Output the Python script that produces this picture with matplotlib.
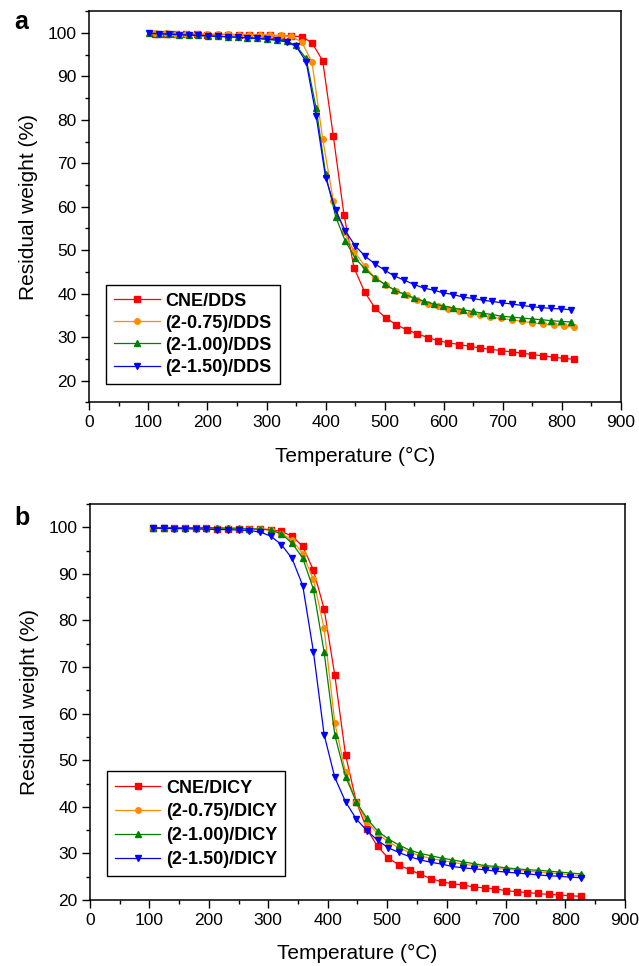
import matplotlib
matplotlib.use('Agg')
import matplotlib.pyplot as plt
from matplotlib.ticker import MultipleLocator

plt.rcParams['font.family'] = ['Liberation Sans', 'DejaVu Sans']

# panel a (DDS cured)
temp_a1 = [111, 129, 146, 164, 182, 200, 218, 235, 253, 271,
           289, 306, 324, 342, 360, 377, 395, 413, 431, 448,
           466, 484, 502, 519, 537, 555, 573, 590, 608, 626,
           644, 662, 679, 697, 715, 733, 750, 768, 786, 804,
           821]
cne_dds = [99.8, 99.8, 99.7, 99.7, 99.7, 99.6, 99.6, 99.6, 99.5, 99.5,
           99.4, 99.4, 99.3, 99.3, 99.1, 97.7, 93.6, 76.3, 58.2, 46.0,
           40.4, 36.6, 34.4, 32.9, 31.7, 30.8, 29.9, 29.2, 28.7, 28.3,
           27.9, 27.5, 27.2, 26.9, 26.6, 26.3, 26.0, 25.7, 25.4, 25.1,
           24.9]
dds_075 = [99.9, 99.9, 99.8, 99.8, 99.8, 99.7, 99.7, 99.7, 99.6, 99.6,
           99.6, 99.5, 99.4, 99.2, 97.8, 93.2, 75.6, 61.4, 54.2, 49.8,
           46.4, 43.6, 41.9, 40.6, 39.6, 38.5, 37.6, 37.1, 36.5, 35.9,
           35.4, 35.0, 34.6, 34.3, 34.0, 33.6, 33.3, 33.0, 32.8, 32.5,
           32.3]
temp_a2 = [101, 118, 135, 151, 168, 184, 201, 218, 234, 251,
           267, 284, 301, 317, 334, 350, 367, 384, 400, 417,
           433, 450, 467, 483, 500, 516, 533, 550, 566, 583,
           599, 616, 633, 649, 666, 682, 699, 716, 732, 749,
           765, 782, 799, 815]
dds_100 = [99.9, 99.8, 99.7, 99.6, 99.5, 99.4, 99.3, 99.2, 99.1, 99.0,
           98.9, 98.8, 98.6, 98.4, 98.1, 97.1, 94.1, 82.7, 67.5, 57.7,
           52.2, 48.2, 45.6, 43.7, 42.2, 40.9, 39.9, 39.0, 38.3, 37.6,
           37.2, 36.7, 36.3, 35.9, 35.5, 35.2, 34.8, 34.6, 34.4, 34.2,
           34.0, 33.8, 33.6, 33.5]
dds_150 = [99.9, 99.8, 99.7, 99.6, 99.5, 99.4, 99.3, 99.2, 99.1, 99.0,
           98.8, 98.7, 98.5, 98.3, 97.9, 96.9, 93.4, 80.9, 66.7, 59.2,
           54.5, 51.0, 48.6, 46.9, 45.4, 44.1, 43.1, 42.1, 41.3, 40.8,
           40.2, 39.8, 39.2, 38.9, 38.5, 38.2, 37.9, 37.6, 37.3, 37.0,
           36.8, 36.6, 36.5, 36.3]

# panel b (DICY cured)
temp_b = [106, 124, 142, 160, 178, 196, 214, 232, 250, 268,
          286, 304, 322, 340, 358, 376, 394, 412, 430, 448,
          466, 484, 502, 520, 538, 556, 574, 592, 610, 628,
          646, 664, 682, 700, 718, 736, 754, 772, 790, 808,
          826]
cne_dicy = [99.8, 99.8, 99.8, 99.8, 99.8, 99.8, 99.7, 99.7, 99.7, 99.6,
            99.6, 99.5, 99.1, 98.1, 95.9, 90.8, 82.5, 68.2, 51.2, 41.1,
            35.2, 31.5, 29.0, 27.5, 26.5, 25.5, 24.6, 23.9, 23.5, 23.2,
            22.8, 22.6, 22.4, 22.0, 21.8, 21.6, 21.4, 21.2, 21.1, 20.9,
            20.8]
dicy_075 = [99.9, 99.9, 99.9, 99.9, 99.9, 99.8, 99.8, 99.8, 99.7, 99.7,
            99.6, 99.5, 98.6, 97.3, 94.3, 88.8, 78.3, 58.0, 47.4, 41.1,
            36.8, 34.2, 32.5, 31.2, 30.2, 29.5, 28.9, 28.5, 28.1, 27.7,
            27.4, 27.1, 26.8, 26.6, 26.4, 26.2, 26.0, 25.8, 25.6, 25.4,
            25.2]
dicy_100 = [99.9, 99.9, 99.9, 99.9, 99.9, 99.9, 99.9, 99.8, 99.8, 99.7,
            99.6, 99.4, 98.6, 96.6, 93.4, 86.7, 73.2, 55.4, 46.5, 41.1,
            37.5, 34.8, 33.1, 31.8, 30.7, 30.0, 29.5, 29.0, 28.6, 28.2,
            27.8, 27.4, 27.2, 26.9, 26.7, 26.5, 26.4, 26.2, 26.0, 25.8,
            25.6]
dicy_150 = [99.8, 99.8, 99.7, 99.7, 99.6, 99.6, 99.5, 99.5, 99.4, 99.3,
            99.0, 98.1, 96.3, 93.3, 87.5, 73.3, 55.5, 46.3, 41.1, 37.4,
            34.9, 32.8, 31.2, 30.2, 29.3, 28.6, 28.1, 27.7, 27.2, 26.9,
            26.7, 26.5, 26.2, 26.0, 25.8, 25.6, 25.4, 25.2, 25.1, 24.9,
            24.8]

colors = ['#ff0000', '#ff8c00', '#008000', '#0000ff']
markers = ['s', 'o', '^', 'v']
sizes = [4, 4, 4.5, 4.5]

fig = plt.figure(figsize=(6.39, 9.66), dpi=100)
ax_a = fig.add_axes([0.1398, 0.5835, 0.832, 0.405])
ax_b = fig.add_axes([0.1408, 0.0683, 0.837, 0.41])

series_a = [(temp_a1, cne_dds, 'CNE/DDS'),
            (temp_a1, dds_075, '(2-0.75)/DDS'),
            (temp_a2, dds_100, '(2-1.00)/DDS'),
            (temp_a2, dds_150, '(2-1.50)/DDS')]
series_b = [(temp_b, cne_dicy, 'CNE/DICY'),
            (temp_b, dicy_075, '(2-0.75)/DICY'),
            (temp_b, dicy_100, '(2-1.00)/DICY'),
            (temp_b, dicy_150, '(2-1.50)/DICY')]

panels = [(ax_a, series_a, 15, 0.047, 0.28), (ax_b, series_b, 20, 0.06, 0.38)]
for ax, series, ylo, leg_y, spacing in panels:
    for i, (t, w, name) in enumerate(series):
        ax.plot(t, w, color=colors[i], marker=markers[i], markersize=sizes[i],
                linewidth=0.9, label=name)
    ax.set_xlim(0, 900)
    ax.set_ylim(ylo, 105)
    ax.xaxis.set_major_locator(MultipleLocator(100))
    ax.xaxis.set_minor_locator(MultipleLocator(50))
    ax.yaxis.set_major_locator(MultipleLocator(10))
    ax.yaxis.set_minor_locator(MultipleLocator(5))
    ax.tick_params(which='both', direction='out', top=False, right=False,
                   labelsize=12.5, width=1)
    ax.tick_params(which='major', length=5.5)
    ax.tick_params(which='minor', length=2.8)
    for sp in ax.spines.values():
        sp.set_linewidth(1.1)
    ax.set_xlabel('Temperature (°C)', fontsize=15, labelpad=12)
    ax.set_ylabel('Residual weight (%)', fontsize=15, labelpad=7)
    leg = ax.legend(loc='lower left', bbox_to_anchor=(0.032, leg_y), borderaxespad=0,
                    fancybox=False, edgecolor='black', framealpha=1,
                    prop={'weight': 'bold', 'size': 13}, handlelength=2.5,
                    labelspacing=spacing, borderpad=0.45, handletextpad=0.3)
    leg.get_frame().set_linewidth(1.0)

fig.text(14 / 639, 1 - 22 / 966, 'a', fontsize=18, fontweight='bold', va='center')
fig.text(14 / 639, 1 - 518 / 966, 'b', fontsize=18, fontweight='bold', va='center')

fig.savefig('out.png', dpi=100)
